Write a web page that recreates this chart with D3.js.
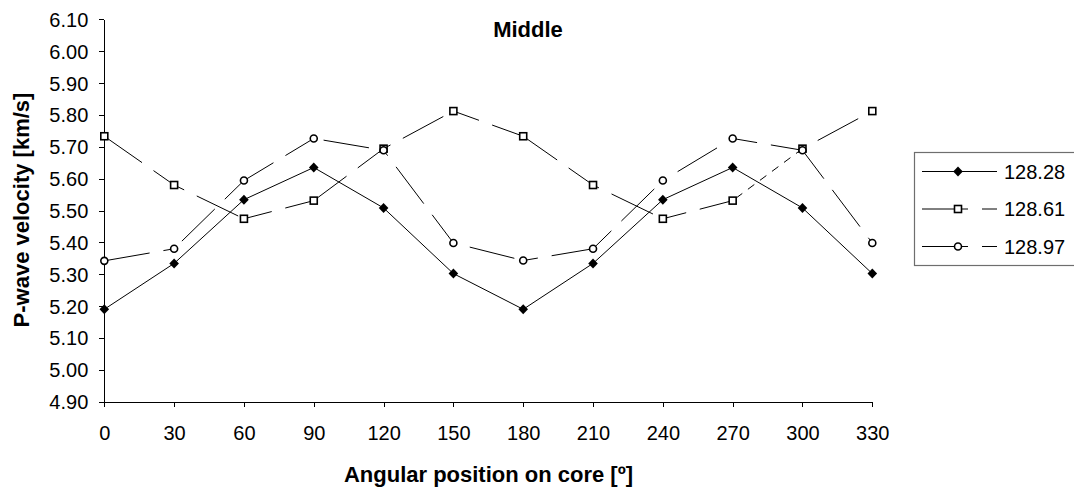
<!DOCTYPE html>
<html>
<head>
<meta charset="utf-8">
<script src="https://cdn.jsdelivr.net/npm/d3@7/dist/d3.min.js"></script>
<style>
  html, body { margin: 0; padding: 0; background: #fff; }
  svg { display: block; }
  text { font-family: "Liberation Sans", Arial, sans-serif; fill: #000; }
</style>
</head>
<body>
<svg id="chart" width="1074" height="493"></svg>
<script>
// ---- data ----
const angles = [0, 30, 60, 90, 120, 150, 180, 210, 240, 270, 300, 330];
const seriesNames = ["128.28", "128.61", "128.97"];
const v12828 = [5.19, 5.334, 5.534, 5.635, 5.508, 5.302, 5.19, 5.334, 5.534, 5.635, 5.508, 5.302];
const v12861 = [5.733, 5.58, 5.474, 5.531, 5.694, 5.812, 5.733, 5.58, 5.474, 5.531, 5.694, 5.812];
const v12897 = [5.342, 5.38, 5.594, 5.726, 5.689, 5.398, 5.343, 5.38, 5.594, 5.726, 5.689, 5.398];
const yTicks = [4.9, 5.0, 5.1, 5.2, 5.3, 5.4, 5.5, 5.6, 5.7, 5.8, 5.9, 6.0, 6.1];
const xTicks = angles;
const title = "Middle";
const xTitle = "Angular position on core [º]";
const yTitle = "P-wave velocity [km/s]";

const svg = d3.select("#chart");

const x = d3.scaleLinear().domain([0, 330]).range([104.3, 872.3]);
const y = d3.scaleLinear().domain([4.9, 6.1]).range([401.7, 19.3]);

// axes
const yAxis = d3.axisLeft(y).tickValues(yTicks).tickFormat(d3.format(".2f"))
  .tickSize(5).tickSizeOuter(0).tickPadding(11);
const gy = svg.append("g").attr("transform", `translate(${x(0)},0)`).call(yAxis);
gy.selectAll("text").style("font-size", "20px").attr("dy", "0.35em");

const xAxis = d3.axisBottom(x).tickValues(xTicks).tickFormat(d3.format("d"))
  .tickSize(5).tickSizeOuter(0).tickPadding(19);
const gx = svg.append("g").attr("transform", `translate(0,${y(4.9)})`).call(xAxis);
gx.selectAll("text").style("font-size", "20px");

[gx, gy].forEach(g => {
  g.selectAll("path.domain").attr("stroke", "#000").attr("stroke-width", 1).attr("shape-rendering", "crispEdges");
  g.selectAll(".tick line").attr("stroke", "#000").attr("stroke-width", 1).attr("shape-rendering", "crispEdges");
  g.attr("font-family", null).attr("font-size", null);
});

// titles
svg.append("text").attr("x", 528).attr("y", 36.5).attr("text-anchor", "middle")
  .style("font-size", "22px").style("font-weight", "bold").text(title);
svg.append("text").attr("x", 488.5).attr("y", 482).attr("text-anchor", "middle")
  .style("font-size", "22px").style("font-weight", "bold").text(xTitle);
svg.append("text").attr("transform", "translate(29,210) rotate(-90)").attr("text-anchor", "middle")
  .style("font-size", "22px").style("font-weight", "bold").text(yTitle);

// series
const seriesVals = [v12828, v12861, v12897];
const dashes = [null, "46,14", "46,14"];
const markerType = ["diamond", "square", "circle"];
// segment-specific rendering quirk in the reference (series 128.61, 270 -> 300 drawn with short dashes)
const shortDashSegment = { series: 1, segment: 9, dash: "8,7" };

function drawMarker(g, type, cx, cy) {
  if (type === "diamond") {
    g.append("path").attr("d", `M${cx},${cy-5}L${cx+4.8},${cy}L${cx},${cy+5}L${cx-4.8},${cy}Z`)
      .attr("fill", "#000");
  } else if (type === "square") {
    g.append("rect").attr("x", cx - 3.5).attr("y", cy - 3.5).attr("width", 7).attr("height", 7)
      .attr("fill", "#fff").attr("stroke", "#000").attr("stroke-width", 1.6);
  } else {
    g.append("circle").attr("cx", cx).attr("cy", cy).attr("r", 3.5)
      .attr("fill", "#fff").attr("stroke", "#000").attr("stroke-width", 1.6);
  }
}

seriesVals.forEach((vals, i) => {
  const pts = angles.map((a, j) => [x(a), y(vals[j])]);
  let cum = 0;
  for (let j = 0; j < pts.length - 1; j++) {
    const [x1, y1] = pts[j], [x2, y2] = pts[j + 1];
    const len = Math.hypot(x2 - x1, y2 - y1);
    const seg = svg.append("line").attr("x1", x1).attr("y1", y1).attr("x2", x2).attr("y2", y2)
      .attr("stroke", "#000").attr("stroke-width", 1);
    if (dashes[i]) {
      if (shortDashSegment.series === i && shortDashSegment.segment === j) {
        seg.attr("stroke-dasharray", shortDashSegment.dash).attr("stroke-dashoffset", -4);
      } else {
        seg.attr("stroke-dasharray", dashes[i]).attr("stroke-dashoffset", -cum);
      }
    }
    cum += len;
  }
});
seriesVals.forEach((vals, i) => {
  const g = svg.append("g");
  angles.forEach((a, j) => drawMarker(g, markerType[i], x(a), y(vals[j])));
});

// legend
const lg = svg.append("g");
lg.append("rect").attr("x", 914.5).attr("y", 152.5).attr("width", 170).attr("height", 113)
  .attr("fill", "#fff").attr("stroke", "#6e6e6e").attr("stroke-width", 1.2);
const rowsY = [171.5, 209, 246.5];
seriesNames.forEach((name, i) => {
  const ly = rowsY[i];
  const l = lg.append("line").attr("x1", 922).attr("x2", 997).attr("y1", ly).attr("y2", ly)
    .attr("stroke", "#000").attr("stroke-width", 1);
  if (dashes[i]) l.attr("stroke-dasharray", dashes[i]);
  drawMarker(lg, markerType[i], 958, ly);
  lg.append("text").attr("x", 1004).attr("y", ly).attr("dy", "0.35em")
    .style("font-size", "20px").text(name);
});
</script>
</body>
</html>
